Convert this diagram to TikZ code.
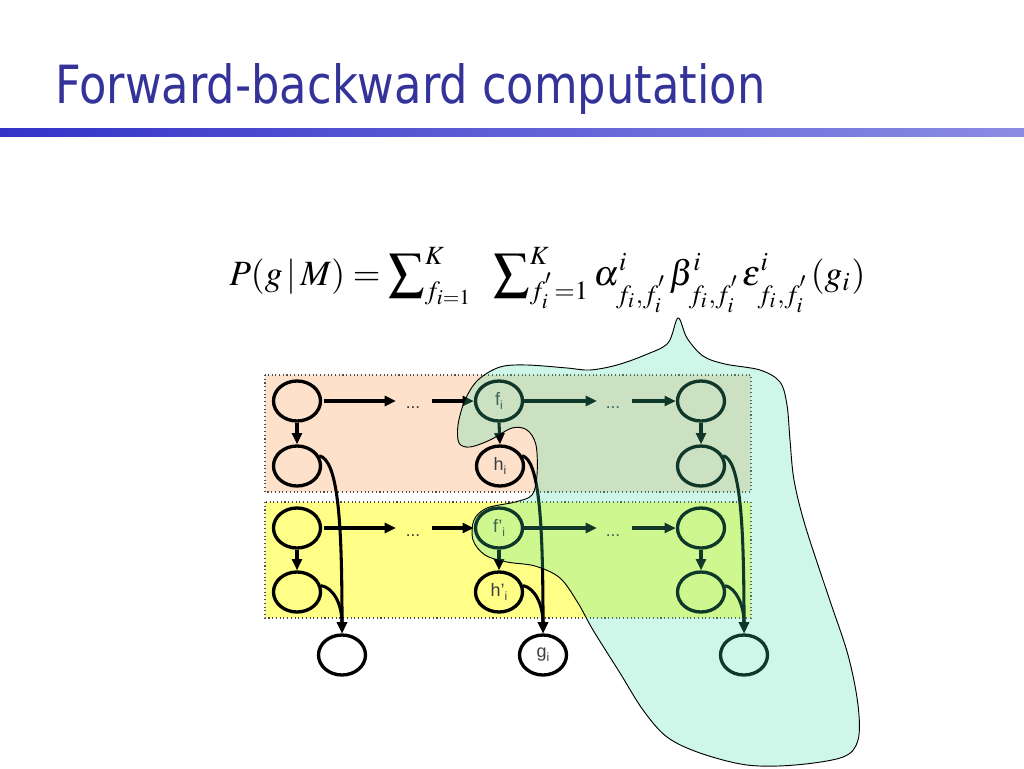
\documentclass[tikz,border=0pt]{standalone}
\usepackage{mathptmx}
\usepackage{fontspec}
\setmainfont{Liberation Sans}
\newfontfamily\titlefont{DejaVu Sans}
\usetikzlibrary{arrows.meta,shapes.geometric}
\definecolor{titleblue}{RGB}{51,51,153}
\definecolor{barleft}{RGB}{51,51,200}
\definecolor{barright}{RGB}{140,140,228}
\definecolor{peach}{RGB}{253,225,202}
\definecolor{lyellow}{RGB}{255,255,136}
\definecolor{blobcol}{RGB}{60,225,170}
\definecolor{labgray}{RGB}{60,60,60}
\tikzset{
  vnode/.style={ellipse,draw=black,line width=2.5pt,minimum width=47*0.75pt,minimum height=40*0.75pt,inner sep=0pt,text=labgray,font=\fontsize{13.5pt}{13.5pt}\selectfont},
  arr/.style={line width=2.3pt,-{Triangle[length=8.5pt,width=7.5pt]}},
  band/.style={draw=black!70,dotted,line width=0.8pt},
  dots/.style={font=\fontsize{13pt}{13pt}\selectfont,text=labgray,inner sep=0pt}
}
\newcommand\sub[1]{\raisebox{-3pt}{\fontsize{9pt}{9pt}\selectfont #1}}
\begin{document}
\begin{tikzpicture}[x=0.75pt,y=-0.75pt]
\useasboundingbox (0,0) rectangle (1024,768);
% title
\node[anchor=base west,inner sep=0pt,text=titleblue] (titletext) at (55,103)
  {\resizebox{532.5pt}{30pt}{\titlefont Forward-backward computation}};
\shade[left color=barleft,right color=barright] (0,128) rectangle (1024,136);
% formula
\node[anchor=base west,inner sep=0pt] (formula) at (229,285)
  {\resizebox{477pt}{!}{$P(g\,|\,M)=\displaystyle\sum\nolimits_{f_{i=1}}^{K}\;\;\sum\nolimits_{f_i^{'}=1}^{K}\alpha^{i}_{f_i,f_i^{'}}\beta^{i}_{f_i,f_i^{'}}\varepsilon^{i}_{f_i,f_i^{'}}(g_i)$}};
% bands
\fill[peach] (265,375) rectangle (751,492);
\draw[band] (265,375) rectangle (751,492);
\fill[lyellow] (265,502) rectangle (751,618);
\draw[band] (265,502) rectangle (751,618);
% nodes column 1
\node[vnode] (a1) at (297,401) {};
\node[vnode] (a2) at (297,466) {};
\node[vnode] (a3) at (297,528) {};
\node[vnode] (a4) at (297,592) {};
\node[vnode] (a5) at (342,655) {};
% column 2
\node[vnode] (b1) at (499,401) {f\sub{i}};
\node[vnode] (b2) at (500,466) {h\sub{i}};
\node[vnode] (b3) at (499,528) {f’\sub{i}};
\node[vnode] (b4) at (499,592) {h’\sub{i}};
\node[vnode] (b5) at (543,655) {g\sub{i}};
% column 3
\node[vnode] (c1) at (701,401) {};
\node[vnode] (c2) at (701,466) {};
\node[vnode] (c3) at (701,528) {};
\node[vnode] (c4) at (701,592) {};
\node[vnode] (c5) at (744,655) {};
% dots
\node[dots] (d1) at (413,408) {...};
\node[dots] (d2) at (613,408) {...};
\node[dots] (d3) at (413,536) {...};
\node[dots] (d4) at (613,536) {...};
\coordinate (p1) at (396,401);
\coordinate (q1) at (432,401);
\coordinate (p2) at (597,401);
\coordinate (q2) at (632,401);
\coordinate (p3) at (396,528);
\coordinate (q3) at (432,528);
\coordinate (p4) at (597,528);
\coordinate (q4) at (632,528);
% horizontal arrows
\draw[arr] (a1.east) ++(2,0) -- (p1);
\draw[arr] (q1) -- (b1.west);
\draw[arr] (b1.east) -- (p2);
\draw[arr] (q2) -- (c1.west);
\draw[arr] (a3.east) ++(2,0) -- (p3);
\draw[arr] (q3) -- (b3.west);
\draw[arr] (b3.east) -- (p4);
\draw[arr] (q4) -- (c3.west);
% vertical arrows
\draw[arr] (a1.south) -- (a2.north);
\draw[arr] (b1.south) -- (b2.north);
\draw[arr] (c1.south) -- (c2.north);
\draw[arr] (a3.south) -- (a4.north);
\draw[arr] (b3.south) -- (b4.north);
\draw[arr] (c3.south) -- (c4.north);
% curved arrows to emission nodes
\draw[arr] (a2.25) .. controls (338,460) and (342,520) .. (a5.north);
\draw[arr] (a4.15) .. controls (334,588) and (342,605) .. (a5.north);
\draw[arr] (b2.25) .. controls (539,460) and (543,520) .. (b5.north);
\draw[arr] (b4.15) .. controls (535,588) and (543,605) .. (b5.north);
\draw[arr] (c2.25) .. controls (740,460) and (744,520) .. (c5.north);
\draw[arr] (c4.15) .. controls (736,588) and (744,605) .. (c5.north);
% blob
\path[fill=blobcol,fill opacity=0.25] plot[smooth cycle,tension=0.55] coordinates {
(678,318) (687,338) (703,356) (725,364) (760,370) (780,382) (787,405) (790,440)
(794,480) (805,525) (828,595) (848,655) (858,705) (858,740) (843,757) (795,765)
(747,765) (700,753) (667,737) (643,710) (620,673) (593,630) (578,603) (560,578)
(535,566) (507,562) (485,555) (473,540) (474,520) (487,508) (515,502) (532,495)
(537,475) (536,445) (527,430) (512,428) (490,440) (470,447) (459,443) (458,425)
(465,400) (478,380) (500,367) (527,365) (567,368) (590,370) (617,365) (645,355)
(668,343)};
\draw[black,line width=0.7pt] plot[smooth cycle,tension=0.55] coordinates {
(678,318) (687,338) (703,356) (725,364) (760,370) (780,382) (787,405) (790,440)
(794,480) (805,525) (828,595) (848,655) (858,705) (858,740) (843,757) (795,765)
(747,765) (700,753) (667,737) (643,710) (620,673) (593,630) (578,603) (560,578)
(535,566) (507,562) (485,555) (473,540) (474,520) (487,508) (515,502) (532,495)
(537,475) (536,445) (527,430) (512,428) (490,440) (470,447) (459,443) (458,425)
(465,400) (478,380) (500,367) (527,365) (567,368) (590,370) (617,365) (645,355)
(668,343)};
\end{tikzpicture}
\end{document}
